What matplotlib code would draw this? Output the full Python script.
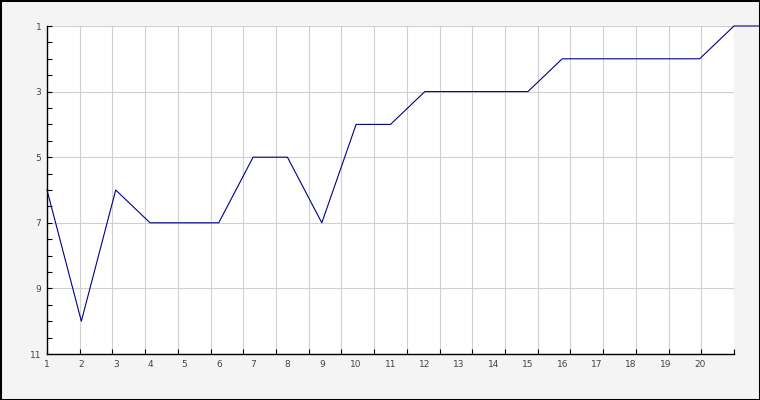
import numpy as np
import matplotlib
matplotlib.use("Agg")
import matplotlib.pyplot as plt
from matplotlib.patches import Rectangle

# positions along the category axis and the plotted values
positions = [1, 2, 3, 4, 5, 6, 7, 8, 9, 10, 11, 12, 13, 14, 15, 16, 17, 18, 19, 20, 21, 22]
values = [6, 10, 6, 7, 7, 7, 5, 5, 7, 4, 4, 3, 3, 3, 3, 2, 2, 2, 2, 2, 1, 1]
x_labels = [str(i) for i in range(1, 21)]
y_labels = [1, 3, 5, 7, 9, 11]

fig = plt.figure(figsize=(7.6, 4.0), dpi=100)
fig.patch.set_facecolor("#f4f4f4")
ax = fig.add_axes([47 / 760, 46 / 400, 687 / 760, 328 / 400])
ax.set_facecolor("white")

ax.plot(positions, values, color="#000088", lw=0.8, clip_on=False, zorder=3)

ax.set_xlim(1, 21)
ax.set_ylim(11, 1)

# grid/ticks on x are spaced in 21 intervals, labels sit on the data points
ax.xaxis.remove_overlapping_locs = False
grid_x = np.linspace(1, 21, 22)
ax.set_xticks(grid_x)
ax.set_xticklabels([])
ax.set_xticks(range(1, 21), minor=True)
ax.set_xticklabels(x_labels, minor=True)
ax.tick_params(axis="x", which="major", direction="in", length=3.6, width=0.8,
               color="black")
ax.tick_params(axis="x", which="minor", length=0, pad=4, labelsize=6.5,
               labelcolor="#444444")

ax.set_yticks(y_labels)
ax.set_yticklabels([str(v) for v in y_labels])
ax.set_yticks(np.arange(1, 11.01, 0.5), minor=True)
ax.tick_params(axis="y", which="both", direction="in", length=3.6, width=0.8,
               color="black", pad=4, labelsize=6.5, labelcolor="#444444")

ax.grid(True, which="major", axis="x", color="#d0d0d0", lw=0.8)
ax.grid(True, which="major", axis="y", color="#d0d0d0", lw=0.8)
ax.set_axisbelow(True)

for s in ["top", "right"]:
    ax.spines[s].set_visible(False)
for s in ["left", "bottom"]:
    ax.spines[s].set_color("black")
    ax.spines[s].set_linewidth(1.0)

border = Rectangle((0, 0), 1, 1, transform=fig.transFigure, fill=False,
                   edgecolor="black", lw=2.2, zorder=10)
fig.add_artist(border)

fig.savefig("out.png", dpi=100, facecolor=fig.get_facecolor())
